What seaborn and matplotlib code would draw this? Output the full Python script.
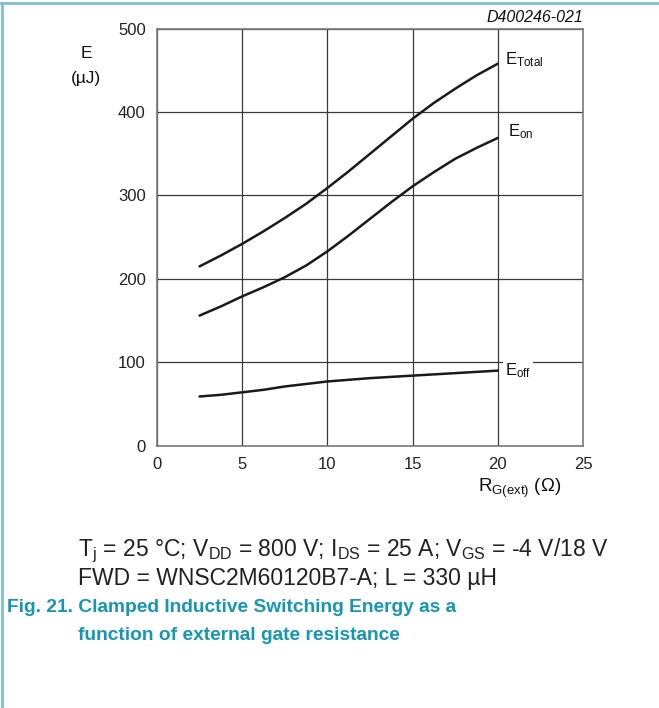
import matplotlib
matplotlib.use("Agg")
import matplotlib.pyplot as plt
import seaborn as sns
import pandas as pd
from matplotlib.lines import Line2D

# data
rg = [2.5, 3.75, 5, 6.25, 7.5, 8.75, 10, 11.25, 12.5, 13.75, 15, 16.25, 17.5, 18.75, 20]
e_total = [215, 228, 242, 257, 273, 290, 309, 329, 350, 371, 392, 411, 428, 444, 458]
e_on = [156, 167, 179, 190, 202, 216, 233, 252, 272, 292, 311, 328, 344, 357, 369]
e_off = [59, 61, 64, 67, 71, 74, 77, 79, 81, 82.5, 84, 85.5, 87, 88.5, 90]
x_ticks = [0, 5, 10, 15, 20, 25]
y_ticks = [0, 100, 200, 300, 400, 500]

sns.set_theme(style="white")
plt.rcParams['font.family'] = ['Liberation Sans', 'DejaVu Sans']
plt.rcParams['mathtext.fontset'] = 'custom'
plt.rcParams['mathtext.rm'] = 'Liberation Sans'
plt.rcParams['mathtext.it'] = 'Liberation Sans:italic'
plt.rcParams['mathtext.bf'] = 'Liberation Sans:bold'

df = pd.DataFrame({
    "rg": rg * 3,
    "E": e_total + e_on + e_off,
    "curve": ["total"] * len(rg) + ["on"] * len(rg) + ["off"] * len(rg),
})

fig = plt.figure(figsize=(6.59, 7.08), dpi=100)
ax = fig.add_axes([0.2382, 0.3705, 0.6465, 0.5890])
sns.lineplot(data=df, x="rg", y="E", hue="curve", palette=["#1a1a1a"] * 3,
             linewidth=1.8, legend=False, ax=ax, zorder=3)

ax.set_xlim(0, 25)
ax.set_ylim(0, 500)
ax.set_xticks(x_ticks)
ax.set_yticks(y_ticks)
ax.set_xlabel("")
ax.set_ylabel("")
ax.tick_params(axis='both', length=0, labelsize=12, colors="#222222")
ax.tick_params(axis='x', pad=8)
ax.tick_params(axis='y', pad=8)
ax.grid(True, color="#3a3a3a", linewidth=0.9)
for s in ax.spines.values():
    s.set_color("#7a7a7a")
    s.set_linewidth(1.2)

lbl = dict(fontsize=12, color="#111111", va="center", ha="left")
ax.text(20.4, 463, r"E$_{\mathrm{Total}}$", **lbl)
ax.text(20.6, 376, r"E$_{\mathrm{on}}$", **lbl)
ax.text(20.4, 90, r"E$_{\mathrm{off}}$",
        bbox=dict(facecolor="white", edgecolor="none", pad=1.5), **lbl)

fig.text(86 / 659, 1 - 53 / 708, "E", fontsize=12.5, ha="center", va="center", color="#111111")
fig.text(86 / 659, 1 - 79 / 708, "(µJ)", fontsize=12.5, ha="center", va="center", color="#111111")
fig.text(583 / 659, 1 - 18 / 708, "D400246-021", fontsize=11.5, style="italic",
         ha="right", va="center", color="#111111")
fig.text(520 / 659, 1 - 488 / 708, r"R$_{\mathrm{G(ext)}}$ (Ω)", fontsize=13.5,
         ha="center", va="center", color="#111111")

fig.text(78 / 659, 1 - 551 / 708,
         r"T$_{\mathrm{j}}$ = 25 °C; V$_{\mathrm{DD}}$ = 800 V; I$_{\mathrm{DS}}$ = 25 A; V$_{\mathrm{GS}}$ = -4 V/18 V",
         fontsize=16.5, ha="left", va="center", color="#222222")
fig.text(78 / 659, 1 - 578 / 708, "FWD = WNSC2M60120B7-A; L = 330 µH",
         fontsize=16.5, ha="left", va="center", color="#222222")
teal = "#1597b3"
fig.text(7 / 659, 1 - 607 / 708, "Fig. 21. Clamped Inductive Switching Energy as a",
         fontsize=13.8, fontweight="bold", ha="left", va="center", color=teal)
fig.text(78 / 659, 1 - 635 / 708, "function of external gate resistance",
         fontsize=13.8, fontweight="bold", ha="left", va="center", color=teal)

border = "#7fbfd2"
fig.add_artist(Line2D([0, 1], [1 - 3 / 708, 1 - 3 / 708], transform=fig.transFigure,
                      color=border, linewidth=2))
fig.add_artist(Line2D([2 / 659, 2 / 659], [0, 1 - 3 / 708], transform=fig.transFigure,
                      color=border, linewidth=2))

fig.savefig("out.png", dpi=100)
